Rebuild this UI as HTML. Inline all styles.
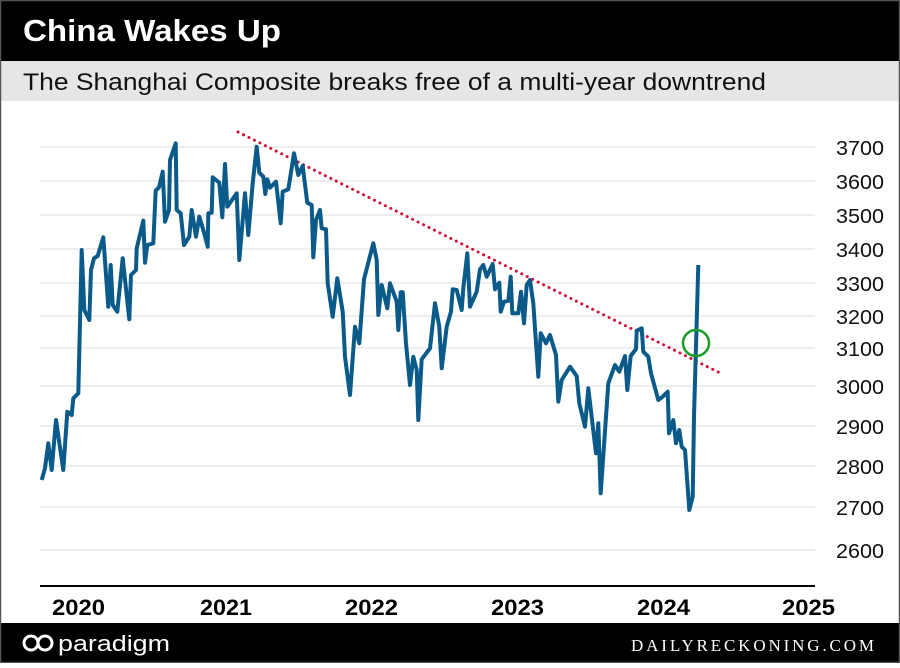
<!DOCTYPE html>
<html><head><meta charset="utf-8"><style>
body{margin:0;width:900px;height:663px;overflow:hidden;background:#fff;font-family:"Liberation Sans",sans-serif}
</style></head><body>
<svg width="900" height="663" viewBox="0 0 900 663" xmlns="http://www.w3.org/2000/svg">
<rect x="0" y="0" width="900" height="663" fill="#fff"/>
<rect x="0" y="0" width="900" height="61" fill="#000"/>
<rect x="0" y="61" width="900" height="40" fill="#e6e6e6"/>
<rect x="0" y="623" width="900" height="40" fill="#000"/>
<rect x="0.5" y="0.5" width="899" height="662" fill="none" stroke="#555" stroke-width="1.5"/>
<text x="23" y="41" fill="#fff" font-size="31" font-weight="bold" textLength="258" lengthAdjust="spacingAndGlyphs">China Wakes Up</text>
<text x="23" y="90" fill="#111" font-size="24.5" textLength="743" lengthAdjust="spacingAndGlyphs">The Shanghai Composite breaks free of a multi-year downtrend</text>
<g stroke="#e8e8e8" stroke-width="1.5">
<line x1="40" x2="815" y1="147" y2="147"/><line x1="40" x2="815" y1="181" y2="181"/><line x1="40" x2="815" y1="215" y2="215"/><line x1="40" x2="815" y1="249" y2="249"/><line x1="40" x2="815" y1="283" y2="283"/><line x1="40" x2="815" y1="316" y2="316"/><line x1="40" x2="815" y1="348" y2="348"/><line x1="40" x2="815" y1="386" y2="386"/><line x1="40" x2="815" y1="426" y2="426"/><line x1="40" x2="815" y1="466" y2="466"/><line x1="40" x2="815" y1="507" y2="507"/><line x1="40" x2="815" y1="550" y2="550"/>
</g>
<g font-size="20.5" fill="#111">
<text x="836" y="155" textLength="48" lengthAdjust="spacingAndGlyphs">3700</text><text x="836" y="189" textLength="48" lengthAdjust="spacingAndGlyphs">3600</text><text x="836" y="223" textLength="48" lengthAdjust="spacingAndGlyphs">3500</text><text x="836" y="257" textLength="48" lengthAdjust="spacingAndGlyphs">3400</text><text x="836" y="291" textLength="48" lengthAdjust="spacingAndGlyphs">3300</text><text x="836" y="324" textLength="48" lengthAdjust="spacingAndGlyphs">3200</text><text x="836" y="356" textLength="48" lengthAdjust="spacingAndGlyphs">3100</text><text x="836" y="394" textLength="48" lengthAdjust="spacingAndGlyphs">3000</text><text x="836" y="434" textLength="48" lengthAdjust="spacingAndGlyphs">2900</text><text x="836" y="474" textLength="48" lengthAdjust="spacingAndGlyphs">2800</text><text x="836" y="515" textLength="48" lengthAdjust="spacingAndGlyphs">2700</text><text x="836" y="558" textLength="48" lengthAdjust="spacingAndGlyphs">2600</text>
</g>
<line x1="40" x2="815" y1="586" y2="586" stroke="#000" stroke-width="2"/>
<g font-size="22" font-weight="bold" fill="#000">
<text x="52" y="615" textLength="53" lengthAdjust="spacingAndGlyphs">2020</text><text x="200" y="615" textLength="52" lengthAdjust="spacingAndGlyphs">2021</text><text x="345" y="615" textLength="53" lengthAdjust="spacingAndGlyphs">2022</text><text x="491" y="615" textLength="53" lengthAdjust="spacingAndGlyphs">2023</text><text x="637" y="615" textLength="53" lengthAdjust="spacingAndGlyphs">2024</text><text x="782" y="615" textLength="53" lengthAdjust="spacingAndGlyphs">2025</text>
</g>
<line x1="238" y1="132" x2="720" y2="373" stroke="#d0103a" stroke-width="3" stroke-dasharray="0.1 6" stroke-linecap="round"/>
<polyline fill="none" stroke="#0a5a8a" stroke-width="4" stroke-linejoin="round" points="41.7,480 45,468.3 48.3,443.3 51.7,470 56,420 63.3,470 67.3,411.7 71.7,415 73.3,398.3 78.3,393.3 81.7,250 84.3,310 89.3,320 91,270 94,258.3 97.7,256 103.3,237.3 108.3,306.7 110.7,265 112.7,305 117.3,311.7 122.7,258.3 129.3,319.3 131,275 136,270 136.7,248.3 143.3,220.7 145,262.7 147.3,245 153.3,243.3 155.7,190.7 159,187.3 162.7,171.7 165,221.7 169,210 170,160 175.7,143.3 176.7,210 180.7,213.3 184,245 189.3,236.7 191.7,210 196,236.7 199.3,216.7 203.3,230 207.7,246.7 208.3,213.3 211.7,212.7 212.7,177.3 219.3,182.7 222.3,217.3 225,164 227.3,206.7 236.7,193.3 239.3,260 245,193.3 248.3,235 252.7,183.3 256.7,146.7 259.3,172.7 263.3,176.7 265.3,194 267.3,179.3 270,187.7 276,181.7 280.7,223.3 282.7,191.7 288.3,189.3 294,153.3 298.3,175 302.7,166 307.3,202.7 311.7,205 313.3,257.3 316,220 320,210 321.7,228.3 326,229.3 327.7,283.3 332.7,316.7 337.3,278.3 342.7,311.7 345,356.7 350,395 355,326.7 359.3,343.3 364,279.3 373.3,243.3 376.7,260 378.3,315 381.7,285 387.3,308.3 390,283.3 396.7,301.7 398.3,330 400.7,292.3 402.7,292.3 406,343.3 410,385 413.3,356.7 416.7,370 418.3,420 421.7,359.3 430,348.3 435,303.3 439.3,326.7 441.7,368.3 446.7,326.7 451,311.7 452.7,289.3 456.7,290 461.7,310 463.3,288.3 467.3,253.3 470,306.7 476.7,291.7 480,269.3 483.3,265 486.7,276.7 492.7,264 495,289.3 499.3,282.7 500.7,311.7 504,301.7 508.3,300.7 510.7,276.7 512.3,313.3 518.3,313.3 521,291.7 524,323.3 526.7,285 530,280 533.3,303.3 538.3,376.7 540.7,333.3 546,343.3 550,335 556,355 558.3,401.7 561.7,380 570,366.7 576.7,376 579.3,403.3 585,426.7 588.3,388.3 596,453.3 598.3,423.3 600.7,493.3 608.3,383.3 615,365 619.3,371.7 625,356 627.3,390 630.7,356 636,349 636.7,330.7 641.7,328.3 643.3,351.7 648.3,356.7 651,373.3 658.3,400 662.7,396.7 667.7,391.7 669,433.3 673.3,420 676,443.3 679.3,430 681.7,446.7 685,450 689.3,510 692.7,496.7 694,416.7 698.3,265"/>
<circle cx="696" cy="343" r="13" fill="none" stroke="#1a9e2a" stroke-width="2.5"/>
<g fill="none" stroke="#fff" stroke-width="3">
<circle cx="31" cy="643" r="7"/><circle cx="45" cy="643" r="7"/>
</g>
<text x="58" y="651" fill="#fff" font-size="22" textLength="112" lengthAdjust="spacingAndGlyphs">paradigm</text>
<text x="631" y="651" fill="#fff" font-size="17" font-family="Liberation Serif,serif" textLength="243" lengthAdjust="spacing">DAILYRECKONING.COM</text>
</svg>
</body></html>
